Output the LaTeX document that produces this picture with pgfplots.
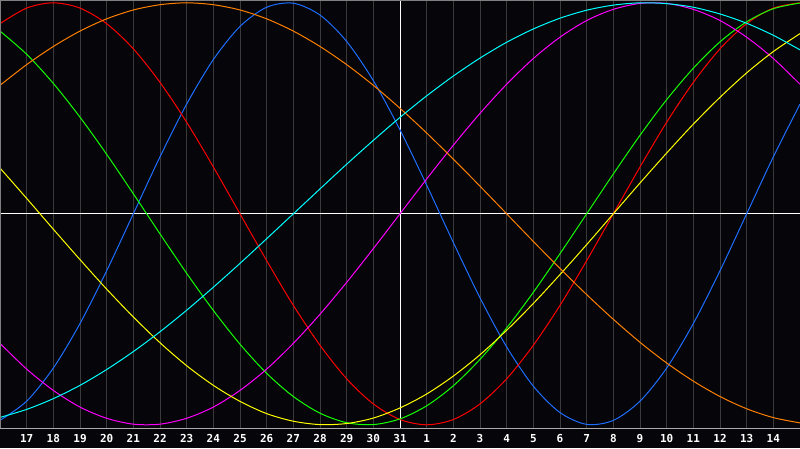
\documentclass[border=0pt]{standalone}
\usepackage{fontspec}
\setmainfont{DejaVu Sans Mono}
\usepackage{pgfplots}
\usepackage{pgfplotstable}
\pgfplotsset{compat=1.18}

\definecolor{bg}{RGB}{5,5,10}
\definecolor{gridgray}{RGB}{58,58,58}
\definecolor{framegray}{RGB}{128,128,128}
\definecolor{basegray}{RGB}{170,170,170}
\definecolor{cred}{RGB}{255,0,0}
\definecolor{cblue}{RGB}{30,110,255}
\definecolor{cgreen}{RGB}{20,255,0}
\definecolor{cmagenta}{RGB}{255,0,255}
\definecolor{cyellow}{RGB}{255,255,0}
\definecolor{corange}{RGB}{255,128,0}
\definecolor{ccyan}{RGB}{0,255,255}

% day index 0 = 16th, 15 = 31st, 30 = 15th
\pgfplotstableread{
i  red    blue   green  magenta yellow orange cyan
0  0.901 -0.979  0.866 -0.614  0.217  0.609 -0.965
1  0.975 -0.888  0.756 -0.736  0.073  0.707 -0.927
2  1.000 -0.731  0.618 -0.837 -0.073  0.793 -0.876
3  0.975 -0.520  0.458 -0.916 -0.217  0.866 -0.813
4  0.901 -0.270  0.282 -0.969 -0.357  0.924 -0.738
5  0.782  0.000  0.095 -0.997 -0.489  0.966 -0.653
6  0.623  0.270 -0.095 -0.997 -0.611  0.991 -0.559
7  0.434  0.520 -0.282 -0.969 -0.720  1.000 -0.457
8  0.222  0.731 -0.458 -0.916 -0.813  0.991 -0.348
9  0.000  0.888 -0.618 -0.837 -0.889  0.966 -0.235
10 -0.222 0.979 -0.756 -0.736 -0.947  0.924 -0.118
11 -0.434 0.998 -0.866 -0.614 -0.983  0.866  0.000
12 -0.623 0.942 -0.945 -0.476 -0.999  0.793  0.118
13 -0.782 0.817 -0.990 -0.325 -0.994  0.707  0.235
14 -0.901 0.631 -0.999 -0.165 -0.968  0.609  0.348
15 -0.975 0.398 -0.972  0.000 -0.920  0.500  0.457
16 -1.000 0.136 -0.910  0.165 -0.854  0.383  0.559
17 -0.975 -0.136 -0.815 0.325 -0.769  0.259  0.653
18 -0.901 -0.398 -0.690 0.476 -0.668  0.131  0.738
19 -0.782 -0.631 -0.541 0.614 -0.552  0.000  0.813
20 -0.623 -0.817 -0.372 0.736 -0.425 -0.131  0.876
21 -0.434 -0.942 -0.189 0.837 -0.288 -0.259  0.927
22 -0.222 -0.998 0.000  0.916 -0.146 -0.383  0.965
23  0.000 -0.979 0.189  0.969  0.000 -0.500  0.989
24  0.222 -0.888 0.372  0.997  0.146 -0.609  1.000
25  0.434 -0.731 0.541  0.997  0.288 -0.707  0.996
26  0.623 -0.520 0.690  0.969  0.425 -0.793  0.979
27  0.782 -0.270 0.815  0.916  0.552 -0.866  0.947
28  0.901  0.000 0.910  0.837  0.668 -0.924  0.903
29  0.975  0.270 0.972  0.736  0.769 -0.966  0.846
30  1.000  0.520 0.999  0.614  0.854 -0.991  0.777
}\bio

\begin{document}
\begin{tikzpicture}
\fill[bg] (0,-20pt) rectangle (800pt,428pt);
\begin{axis}[
    at={(0,0)}, anchor=south west,
    width=800pt, height=428pt, scale only axis,
    xmin=0, xmax=30, ymin=-1.0152, ymax=1.0133,
    axis background/.style={fill=bg},
    axis line style={draw=none},
    xtick={1,...,29},
    xticklabels={17,18,19,20,21,22,23,24,25,26,27,28,29,30,31,1,2,3,4,5,6,7,8,9,10,11,12,13,14},
    ytick=\empty,
    major tick length=0pt,
    xmajorgrids,
    major grid style={gridgray, line width=1pt},
    xticklabel style={anchor=base, yshift=-14.7pt, text=white,
        font=\bfseries\fontsize{11}{11}\selectfont},
    every axis plot/.append style={line width=1pt, smooth},
]
    \draw[white, line width=1pt] (axis cs:15,-1.0152) -- (axis cs:15,1.0133);
    \draw[white, line width=1pt] (axis cs:0,0) -- (axis cs:30,0);
    \addplot[cblue]    table[x=i, y=blue]    {\bio};
    \addplot[cred]     table[x=i, y=red]     {\bio};
    \addplot[cgreen]   table[x=i, y=green]   {\bio};
    \addplot[cmagenta] table[x=i, y=magenta] {\bio};
    \addplot[cyellow]  table[x=i, y=yellow]  {\bio};
    \addplot[corange]  table[x=i, y=orange]  {\bio};
    \addplot[ccyan]    table[x=i, y=cyan]    {\bio};
    \draw[framegray, line width=1pt] ([xshift=0.5pt]rel axis cs:0,0) -- ([xshift=0.5pt,yshift=-0.5pt]rel axis cs:0,1) -- ([yshift=-0.5pt]rel axis cs:1,1);
    \draw[basegray, line width=1pt] ([yshift=-0.5pt]rel axis cs:0,0) -- ([yshift=-0.5pt]rel axis cs:1,0);
\end{axis}
\pgfresetboundingbox
\useasboundingbox (0,-20pt) rectangle (800pt,428pt);
\end{tikzpicture}
\end{document}
